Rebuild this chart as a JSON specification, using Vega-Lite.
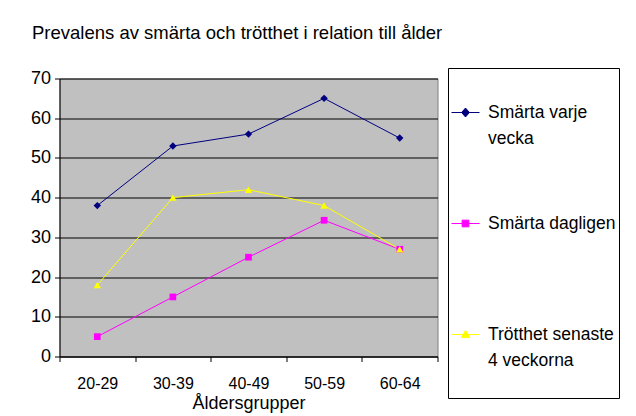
{
  "$schema": "https://vega.github.io/schema/vega-lite/v6.json",
  "autosize": {"type": "none"},
  "width": 378,
  "height": 278,
  "padding": {"left": 59.5, "top": 78.5, "right": 198.5, "bottom": 59.5},
  "background": "white",
  "title": {
    "text": "Prevalens av smärta och trötthet i relation till ålder",
    "anchor": "start",
    "frame": "group",
    "baseline": "alphabetic",
    "offset": 10,
    "dx": -27.5,
    "font": "Liberation Sans",
    "fontSize": 18.5,
    "fontWeight": "normal",
    "color": "black"
  },
  "config": {
    "font": "Liberation Sans",
    "view": {"fill": "#c0c0c0", "stroke": "#808080"}
  },
  "data": {
    "values": [
      {"age": "20-29", "series": "Smärta varje vecka", "value": 38},
      {"age": "30-39", "series": "Smärta varje vecka", "value": 53},
      {"age": "40-49", "series": "Smärta varje vecka", "value": 56},
      {"age": "50-59", "series": "Smärta varje vecka", "value": 65},
      {"age": "60-64", "series": "Smärta varje vecka", "value": 55},
      {"age": "20-29", "series": "Smärta dagligen", "value": 5},
      {"age": "30-39", "series": "Smärta dagligen", "value": 15},
      {"age": "40-49", "series": "Smärta dagligen", "value": 25},
      {"age": "50-59", "series": "Smärta dagligen", "value": 34.3},
      {"age": "60-64", "series": "Smärta dagligen", "value": 27},
      {"age": "20-29", "series": "Trötthet senaste 4 veckorna", "value": 18},
      {"age": "30-39", "series": "Trötthet senaste 4 veckorna", "value": 40},
      {"age": "40-49", "series": "Trötthet senaste 4 veckorna", "value": 42},
      {"age": "50-59", "series": "Trötthet senaste 4 veckorna", "value": 38},
      {"age": "60-64", "series": "Trötthet senaste 4 veckorna", "value": 27}
    ]
  },
  "encoding": {
    "x": {
      "field": "age",
      "type": "ordinal",
      "bandPosition": 0.5,
      "scale": {"type": "band", "paddingInner": 0, "paddingOuter": 0},
      "axis": {
        "title": "Åldersgrupper",
        "titleFont": "Liberation Sans",
        "titleFontSize": 18,
        "titleFontWeight": "normal",
        "titleColor": "black",
        "titlePadding": 3,
        "labelFont": "Liberation Sans",
        "labelFontSize": 16,
        "labelColor": "black",
        "labelAngle": 0,
        "labelPadding": 14,
        "tickBand": "extent",
        "tickSize": 5,
        "tickColor": "black",
        "domainColor": "black",
        "grid": false
      }
    },
    "y": {
      "field": "value",
      "type": "quantitative",
      "scale": {"domain": [0, 70], "nice": false},
      "axis": {
        "title": null,
        "values": [0, 10, 20, 30, 40, 50, 60, 70],
        "labelFont": "Liberation Sans",
        "labelFontSize": 18,
        "labelColor": "black",
        "labelPadding": 4,
        "tickSize": 5,
        "tickColor": "black",
        "domainColor": "black",
        "grid": true,
        "gridColor": "black",
        "gridWidth": 1,
        "gridOpacity": 1
      }
    },
    "color": {
      "field": "series",
      "type": "nominal",
      "sort": ["Smärta varje vecka", "Smärta dagligen", "Trötthet senaste 4 veckorna"],
      "scale": {
        "domain": ["Smärta varje vecka", "Smärta dagligen", "Trötthet senaste 4 veckorna"],
        "range": ["#000080", "#ff00ff", "#ffff00"]
      },
      "legend": {
        "orient": "none",
        "legendX": 388.5,
        "legendY": -10.5,
        "title": " ",
        "titleFontSize": 10,
        "titlePadding": 17,
        "strokeColor": "black",
        "fillColor": "white",
        "padding": 3,
        "labelFont": "Liberation Sans",
        "labelFontSize": 17.5,
        "labelColor": "black",
        "labelOffset": 8,
        "labelLimit": 400,
        "labelBaseline": "middle",
        "symbolSize": 784,
        "rowPadding": 62,
        "labelExpr": "datum.label == 'Smärta varje vecka' ? ['Smärta varje', 'vecka'] : datum.label == 'Smärta dagligen' ? ['Smärta dagligen', '\u00a0'] : ['Trötthet senaste', '4 veckorna', '\u00a0']",
        "encode": {
          "symbols": {
            "update": {
              "shape": {"signal": "datum.value == 'Smärta varje vecka' ? 'M-1,0H1M-0.28,0L0,-0.32L0.28,0L0,0.32Z' : datum.value == 'Smärta dagligen' ? 'M-1,0H1M-0.24,-0.24H0.24V0.24H-0.24Z' : 'M-1,0H1M-0.3,0.22L0,-0.3L0.3,0.22Z'"},
              "fill": {"signal": "scale('color', datum.value)"},
              "stroke": {"signal": "scale('color', datum.value)"},
              "strokeWidth": {"value": 1},
              "size": {"value": 784},
              "opacity": {"value": 1}
            }
          },
          "labels": {
            "update": {"lineHeight": {"value": 26}}
          }
        }
      }
    }
  },
  "layer": [
    {"mark": {"type": "line", "strokeWidth": 1}},
    {
      "transform": [{"filter": "datum.series == 'Smärta varje vecka'"}],
      "mark": {"type": "point", "filled": true, "opacity": 1, "size": 55, "shape": "diamond"}
    },
    {
      "transform": [{"filter": "datum.series == 'Smärta dagligen'"}],
      "mark": {"type": "point", "filled": true, "opacity": 1, "size": 45, "shape": "square"}
    },
    {
      "transform": [{"filter": "datum.series == 'Trötthet senaste 4 veckorna'"}],
      "mark": {"type": "point", "filled": true, "opacity": 1, "size": 55, "shape": "triangle-up"}
    }
  ]
}
